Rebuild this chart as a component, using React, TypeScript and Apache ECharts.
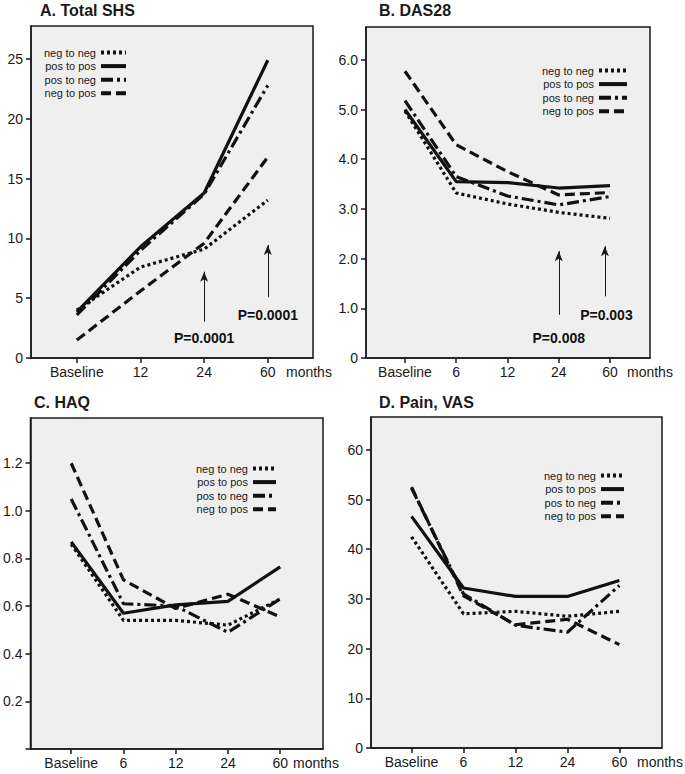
import React, { useEffect, useRef } from "react";
import * as echarts from "echarts";

// ---- Categories ----
const catsA = ["Baseline", "12", "24", "60"];
const catsBCD = ["Baseline", "6", "12", "24", "60"];

// ---- Series names ----
const seriesNames = ["neg to neg", "pos to pos", "pos to neg", "neg to pos"];

// ---- A. Total SHS ----
const negToNegA = [4.0, 7.6, 9.1, 13.2];
const posToPosA = [3.85, 9.3, 13.8, 24.9];
const posToNegA = [3.6, 9.0, 13.7, 22.8];
const negToPosA = [1.5, 5.6, 9.6, 16.8];

// ---- B. DAS28 ----
const negToNegB = [4.97, 3.32, 3.1, 2.93, 2.81];
const posToPosB = [5.0, 3.55, 3.53, 3.42, 3.47];
const posToNegB = [5.18, 3.65, 3.26, 3.08, 3.25];
const negToPosB = [5.77, 4.29, 3.75, 3.28, 3.33];

// ---- C. HAQ ----
const negToNegC = [0.86, 0.54, 0.54, 0.52, 0.63];
const posToPosC = [0.87, 0.57, 0.605, 0.62, 0.765];
const posToNegC = [1.05, 0.61, 0.6, 0.49, 0.63];
const negToPosC = [1.2, 0.71, 0.59, 0.65, 0.555];

// ---- D. Pain, VAS ----
const negToNegD = [42.5, 27.0, 27.5, 26.5, 27.5];
const posToPosD = [46.6, 32.2, 30.5, 30.5, 33.7];
const posToNegD = [52.3, 31.0, 24.7, 23.3, 32.7];
const negToPosD = [52.5, 30.6, 24.8, 25.9, 20.8];

// ---- Y tick values ----
const yTicksA = [0, 5, 10, 15, 20, 25];
const yTicksB = [0, 1, 2, 3, 4, 5, 6];
const yTicksC = [0, 0.2, 0.4, 0.6, 0.8, 1.0, 1.2];
const yLabelsC = [0.2, 0.4, 0.6, 0.8, 1.0, 1.2];
const yTicksD = [0, 10, 20, 30, 40, 50, 60];

// ---- Annotations (P values, arrows) in data space ----
const pTextsA = ["P=0.0001", "P=0.0001"];
const pPosA = [[2, 1.71], [3, 3.6]];
const arrowsA = [[2, 3.04, 7.22], [3, 5.08, 9.45]];
const pTextsB = ["P=0.008", "P=0.003"];
const pPosB = [[3, 0.4], [3.93, 0.87]];
const arrowsB = [[3, 0.87, 2.15], [3.9, 1.24, 2.25]];

const FONT = "'Liberation Sans', Arial, Helvetica, sans-serif";
const INK = "#1a1a1a";
const dashStyles: any[] = [[3, 3], "solid", [12, 4, 3, 4], [10, 5]];

const panels = [
  { title: "A. Total SHS", cats: catsA, data: [negToNegA, posToPosA, posToNegA, negToPosA],
    grid: { left: 31, top: 26, width: 282, height: 332 }, xMin: -0.72, xMax: 3.71, yMax: 27.76,
    yTicks: yTicksA, yLabels: yTicksA, fmt: (v: number) => String(v),
    titlePos: { left: 40, top: 2 }, legend: { left: 44, top: 46, itemWidth: 25 }, nameGap: -27 },
  { title: "B. DAS28", cats: catsBCD, data: [negToNegB, posToPosB, posToNegB, negToPosB],
    grid: { left: 366, top: 27, width: 284, height: 331 }, xMin: -0.76, xMax: 4.78, yMax: 6.66,
    yTicks: yTicksB, yLabels: yTicksB, fmt: (v: number) => (v === 0 ? "0" : v.toFixed(1)),
    titlePos: { left: 379, top: 2 }, legend: { left: 542, top: 64, itemWidth: 28 }, nameGap: -23 },
  { title: "C. HAQ", cats: catsBCD, data: [negToNegC, posToPosC, posToNegC, negToPosC],
    grid: { left: 29, top: 418, width: 294, height: 331 }, xMin: -0.78, xMax: 4.82, yMax: 1.39,
    yTicks: yTicksC, yLabels: yLabelsC, fmt: (v: number) => v.toFixed(1),
    titlePos: { left: 34, top: 394 }, legend: { left: 196, top: 462, itemWidth: 23 }, nameGap: -30 },
  { title: "D. Pain, VAS", cats: catsBCD, data: [negToNegD, posToPosD, posToNegD, negToPosD],
    grid: { left: 371, top: 417, width: 291, height: 331 }, xMin: -0.78, xMax: 4.82, yMax: 66.6,
    yTicks: yTicksD, yLabels: yTicksD, fmt: (v: number) => String(v),
    titlePos: { left: 379, top: 394 }, legend: { left: 544, top: 469, itemWidth: 23 }, nameGap: -25 },
];

function buildOption() {
  const grid: any[] = [];
  const xAxis: any[] = [];
  const yAxis: any[] = [];
  const series: any[] = [];
  const title: any[] = [];
  const legend: any[] = [];

  panels.forEach((p, i) => {
    grid.push({
      ...p.grid, show: true, backgroundColor: "#efefef",
      borderColor: INK, borderWidth: 1.5, containLabel: false,
    });
    const cats = p.cats;
    const idx = cats.map((_, k) => k);
    xAxis.push({
      type: "value", gridIndex: i, min: p.xMin, max: p.xMax,
      name: "months", nameLocation: "end", nameGap: p.nameGap,
      nameTextStyle: { fontSize: 14, color: INK, fontFamily: FONT, verticalAlign: "top", padding: [7, 0, 0, 0] },
      axisLine: { show: true, onZero: false, lineStyle: { color: INK, width: 1.5 } },
      axisTick: { show: true, customValues: idx, length: 5, lineStyle: { color: INK, width: 1.5 } },
      axisLabel: {
        show: true, customValues: idx, margin: 7, fontSize: 14, color: INK, fontFamily: FONT,
        formatter: (v: number) => cats[Math.round(v)] ?? "",
      },
      splitLine: { show: false },
    });
    yAxis.push({
      type: "value", gridIndex: i, min: 0, max: p.yMax,
      axisLine: { show: true, onZero: false, lineStyle: { color: INK, width: 1.5 } },
      axisTick: { show: true, customValues: p.yTicks, length: 5, lineStyle: { color: INK, width: 1.5 } },
      axisLabel: {
        show: true, customValues: p.yLabels, margin: 8, fontSize: 14, color: INK, fontFamily: FONT,
        formatter: p.fmt,
      },
      splitLine: { show: false },
    });
    title.push({
      text: p.title, ...p.titlePos, padding: 0,
      textStyle: { fontSize: 16, fontWeight: "bold", color: INK, fontFamily: FONT },
    });
    legend.push({
      data: seriesNames, orient: "vertical", align: "right",
      left: p.legend.left, top: p.legend.top, padding: 0,
      itemWidth: p.legend.itemWidth, itemHeight: 8, itemGap: 0.6,
      selectedMode: false,
      textStyle: { fontSize: 11, color: INK, fontFamily: FONT, lineHeight: 13 },
      itemStyle: { opacity: 0, borderWidth: 0 },
      lineStyle: { width: 4 },
    });
    p.data.forEach((vals, s) => {
      series.push({
        type: "line", name: seriesNames[s], xAxisIndex: i, yAxisIndex: i,
        data: vals.map((v, k) => [k, v]),
        symbol: "circle", showSymbol: false, symbolSize: 0,
        lineStyle: { color: "#111", width: 3.2, type: dashStyles[s], cap: "butt" },
        itemStyle: { color: "#111" },
        z: 3,
      });
    });
  });

  const addAnnot = (gi: number, texts: string[], pos: number[][], arrows: number[][]) => {
    series.push({
      type: "scatter", name: "annot" + gi, xAxisIndex: gi, yAxisIndex: gi,
      data: pos, symbol: "circle", symbolSize: 0,
      itemStyle: { color: "#111", opacity: 1 },
      label: {
        show: true, position: "inside", fontSize: 14, fontWeight: "bold", color: "#111",
        opacity: 1, fontFamily: FONT, textBorderWidth: 0, textBorderColor: "transparent",
        formatter: (pp: any) => texts[pp.dataIndex],
      },
      emphasis: { disabled: true },
      markLine: {
        silent: true, symbol: ["none", "arrow"], symbolSize: [6, 10], precision: 4,
        lineStyle: { color: INK, width: 1, type: "solid" },
        label: { show: false },
        data: arrows.map((a) => [{ coord: [a[0], a[1]] }, { coord: [a[0], a[2]] }]),
      },
      z: 4,
    });
  };
  addAnnot(0, pTextsA, pPosA, arrowsA);
  addAnnot(1, pTextsB, pPosB, arrowsB);

  return {
    animation: false,
    backgroundColor: "#ffffff",
    textStyle: { fontFamily: FONT },
    title, legend, grid, xAxis, yAxis, series,
  };
}

export default function App() {
  const ref = useRef<HTMLDivElement>(null);
  useEffect(() => {
    if (!ref.current) return;
    const chart = echarts.init(ref.current, undefined, { renderer: "svg" });
    chart.setOption(buildOption() as any);
    return () => chart.dispose();
  }, []);
  return (
    <div
      ref={ref}
      style={{ position: "absolute", left: 0, top: 0, width: 685, height: 774 }}
    />
  );
}
